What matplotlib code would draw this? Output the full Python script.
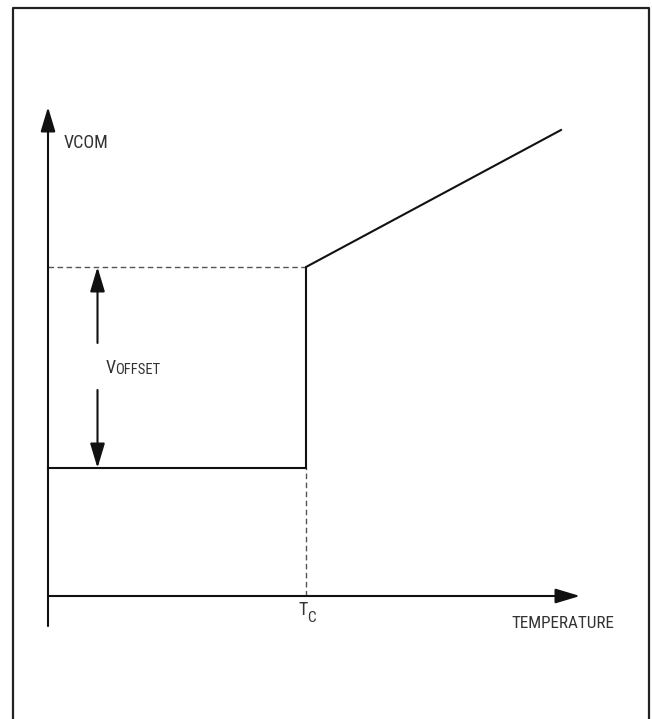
import matplotlib
matplotlib.use("Agg")
import matplotlib.pyplot as plt
from matplotlib.lines import Line2D

# VCOM vs temperature, schematic units (origin at the axis corner)
t_axis_end = 532
v_axis_top = 489
v_axis_bottom = -30
t_c = 258
v_low = 128
v_high = 329
curve_t = [0, t_c, t_c, 513]
curve_v = [v_low, v_low, v_high, 466]

ink = "#111111"
txt = "#333333"
font = ["Roboto Condensed", "DejaVu Sans"]

fig = plt.figure(figsize=(6.52, 7.19), dpi=100)
ax = fig.add_axes([0, 0, 1, 1])
ax.set_xlim(-48, 604)
ax.set_ylim(-123, 596)
ax.axis("off")

# outer frame, open at the bottom
W, H = 652, 719
fx = lambda px: px / W
fy = lambda py: 1 - py / H
fig.add_artist(Line2D([fx(12.5), fx(12.5), fx(648.5), fx(648.5)],
                      [0, fy(8), fy(8), 0], transform=fig.transFigure,
                      color="#222222", lw=1.6))

def arrow(x0, y0, x1, y1):
    ax.annotate("", xy=(x1, y1), xytext=(x0, y0),
                arrowprops=dict(arrowstyle="-|>,head_length=15,head_width=4.5",
                                mutation_scale=1, lw=1.5, color=ink,
                                shrinkA=0, shrinkB=0))

# axes
arrow(0, v_axis_bottom, 0, v_axis_top)
arrow(0, 0, t_axis_end, 0)

# dashed guides
dash = dict(color="#555555", lw=1.0, linestyle=(0, (4, 2.5)))
ax.plot([0, t_c], [v_high, v_high], **dash)
ax.plot([t_c, t_c], [0, v_low], **dash)

# VCOM curve
ax.plot(curve_t, curve_v, color=ink, lw=1.5, solid_joinstyle="miter")

# offset dimension arrows
x_dim = 49.5
arrow(x_dim, 253, x_dim, v_high)
arrow(x_dim, 206, x_dim, v_low)

# labels
ax.text(16, 448, "VCOM", family=font, fontsize=13, color=txt, va="baseline")
ax.text(58, 223, "V", family=font, fontsize=13, color=txt, va="baseline")
ax.text(67, 222, "OFFSET", family=font, fontsize=10.5, color=txt, va="baseline")
ax.text(250, -19, "T", family=font, fontsize=13, color=txt, va="baseline")
ax.text(259, -26, "C", family=font, fontsize=11, color=txt, va="baseline")
ax.text(463, -32, "TEMPERATURE", family=font, fontsize=12.3, color=txt, va="baseline")

fig.savefig("out.png", dpi=100)
